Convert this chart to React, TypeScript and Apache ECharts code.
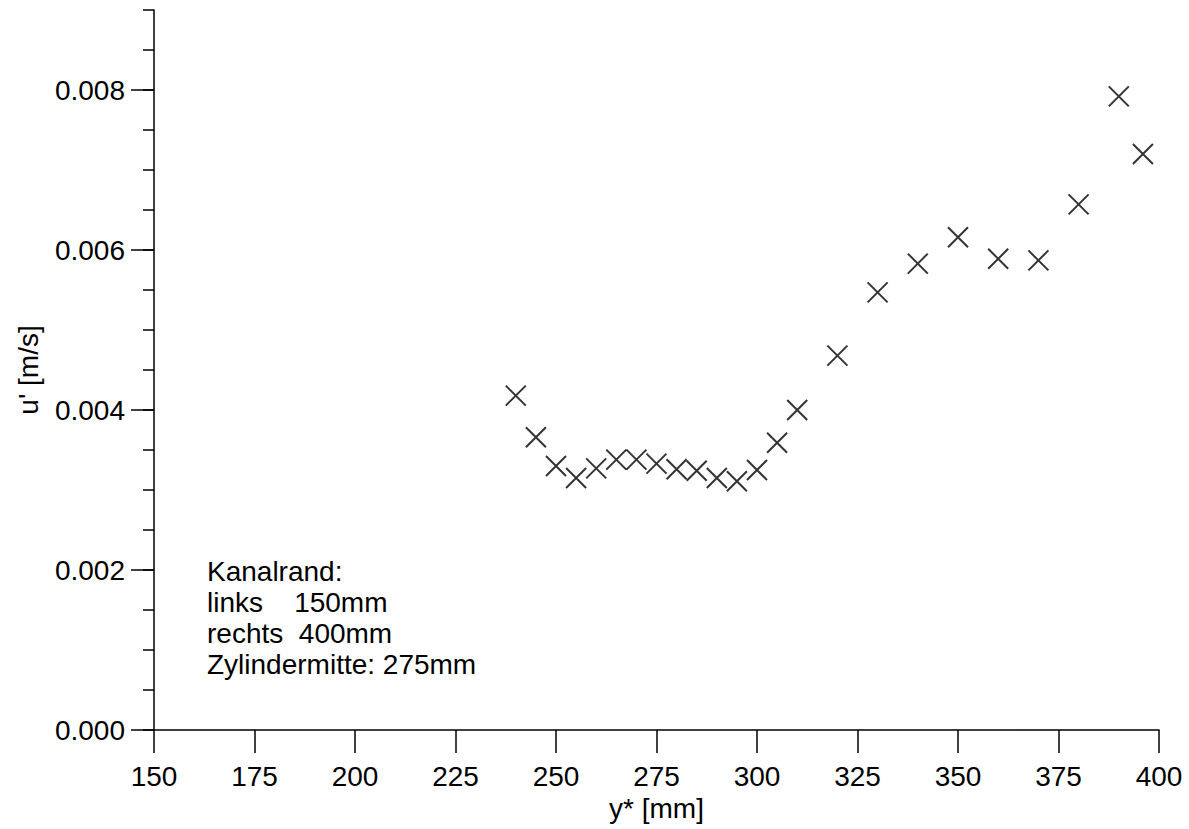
import React, { useEffect, useRef } from "react";
import * as echarts from "echarts";

const yPositions = [240, 245, 250, 255, 260, 265, 270, 275, 280, 285, 290, 295, 300, 305, 310, 320, 330, 340, 350, 360, 370, 380, 390, 396];
const uPrime = [0.00418, 0.00366, 0.0033, 0.00315, 0.00327, 0.00338, 0.00338, 0.00333, 0.00326, 0.00324, 0.00315, 0.00311, 0.00325, 0.00359, 0.004, 0.00468, 0.00547, 0.00583, 0.00616, 0.00589, 0.00587, 0.00657, 0.00792, 0.0072];
const noteLines = ["Kanalrand:", "links    150mm", "rechts  400mm", "Zylindermitte: 275mm"];

const FONT = "'Liberation Sans', Arial, Helvetica, sans-serif";

export default function App() {
  const ref = useRef<HTMLDivElement>(null);
  useEffect(() => {
    if (!ref.current) return;
    const chart = echarts.init(ref.current, null, { renderer: "svg" });
    const data = yPositions.map((x, i) => [x, uPrime[i]]);
    const axisLine = { show: true, lineStyle: { color: "#000", width: 1.5 } };
    chart.setOption({
      animation: false,
      backgroundColor: "#fff",
      textStyle: { fontFamily: FONT, color: "#000" },
      grid: [
        { left: 154, right: 30, top: 10, bottom: 99, containLabel: false },
        { left: 154, right: 30, top: 90, bottom: 99, containLabel: false },
      ],
      xAxis: [
        {
          type: "value",
          gridIndex: 0,
          min: 150,
          max: 400,
          interval: 25,
          axisLine,
          axisTick: { show: true, inside: false, length: 23, lineStyle: { color: "#000", width: 1.5 } },
          axisLabel: { margin: 32, fontSize: 28, color: "#000", fontFamily: FONT },
          splitLine: { show: false },
          name: "y* [mm]",
          nameLocation: "middle",
          nameGap: 62,
          nameTextStyle: { fontSize: 28, color: "#000", fontFamily: FONT },
        },
        { type: "value", gridIndex: 1, min: 150, max: 400, show: false },
      ],
      yAxis: [
        {
          type: "value",
          gridIndex: 0,
          min: 0,
          max: 0.009,
          interval: 0.0005,
          axisLine,
          axisTick: { show: true, inside: false, length: 11, lineStyle: { color: "#000", width: 1.5 } },
          axisLabel: {
            margin: 29,
            fontSize: 28,
            color: "#000",
            fontFamily: FONT,
            formatter: (v: number) => {
              const k = v / 0.002;
              return Math.abs(k - Math.round(k)) < 1e-6 && v <= 0.0080001 ? v.toFixed(3) : "";
            },
          },
          splitLine: { show: false },
          name: "u' [m/s]",
          nameLocation: "middle",
          nameGap: 112,
          nameTextStyle: { fontSize: 28, color: "#000", fontFamily: FONT },
        },
        {
          type: "value",
          gridIndex: 1,
          min: 0,
          max: 0.008,
          interval: 0.002,
          axisLine: { show: false },
          axisTick: { show: true, inside: false, length: 23, lineStyle: { color: "#000", width: 1.5 } },
          axisLabel: { show: false },
          splitLine: { show: false },
        },
      ],
      graphic: [
        {
          type: "text",
          left: 207,
          top: 556,
          style: {
            text: noteLines.join("\n"),
            font: `28px ${FONT}`,
            lineHeight: 31,
            fill: "#000",
          },
        },
      ],
      series: [
        {
          type: "scatter",
          xAxisIndex: 0,
          yAxisIndex: 0,
          data,
          symbol: "path://M0,0L20,20M20,0L0,20",
          symbolSize: 20,
          itemStyle: { color: "rgba(0,0,0,0)", borderColor: "#000", borderWidth: 2 },
        },
      ],
    });
    return () => chart.dispose();
  }, []);
  return <div ref={ref} style={{ position: "fixed", left: 0, top: 0, width: 1189, height: 829, background: "#fff" }} />;
}
